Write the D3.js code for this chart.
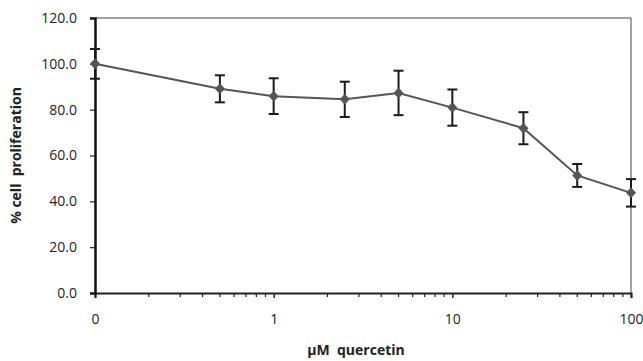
<!DOCTYPE html>
<html>
<head>
<meta charset="utf-8">
<script src="https://cdn.jsdelivr.net/npm/d3@7"></script>
<style>
  body { margin: 0; background: #fff; }
  svg { display: block; font-family: "Open Sans", sans-serif; }
</style>
</head>
<body>
<div id="chart"></div>
<script>
// concentrations in µM (0 = control, plotted at the 0.1 position)
const concentrations = [0, 0.5, 1, 2.5, 5, 10, 25, 50, 100];
const proliferation = [100.0, 89.1, 85.9, 84.5, 87.3, 80.9, 71.9, 51.3, 43.7];
const errors = [6.5, 5.9, 7.8, 7.7, 9.7, 7.9, 7.0, 5.0, 6.0];
const xTickValues = [0.1, 1, 10, 100];
const xTickLabels = ["0", "1", "10", "100"];
const yTickValues = [0, 20, 40, 60, 80, 100, 120];

const width = 643, height = 361;
const margin = { top: 18, right: 12, bottom: 68, left: 95 };

const svg = d3.select('#chart').append('svg')
	.attr('width', width)
	.attr('height', height);

const x = d3.scaleLog()
	.domain([0.1, 100])
	.range([margin.left, width - margin.right]);

const y = d3.scaleLinear()
	.domain([0, 120])
	.range([height - margin.bottom, margin.top]);

const xPos = c => x(c === 0 ? 0.1 : c);

// plot frame (top & right)
svg.append('path')
	.attr('d', `M${x(0.1)},${y(120)}H${x(100)}V${y(0)}`)
	.attr('fill', 'none')
	.attr('stroke', '#444')
	.attr('stroke-width', 1);

// minor ticks on x
const minor = [];
[0.1, 1, 10].forEach(d => { for (let k = 2; k <= 9; k++) minor.push(d * k); });
svg.append('g').selectAll('line')
	.data(minor)
	.enter().append('line')
	.attr('x1', d => x(d)).attr('x2', d => x(d))
	.attr('y1', y(0)).attr('y2', y(0) + 4)
	.attr('stroke', '#222').attr('stroke-width', 1.2);

// x axis
const xAxis = svg.append('g')
	.attr('transform', `translate(0,${y(0)})`)
	.call(d3.axisBottom(x).tickValues(xTickValues)
		.tickFormat((d, i) => xTickLabels[i])
		.tickSize(5).tickPadding(16));
xAxis.select('.domain').attr('stroke', '#222').attr('stroke-width', 2);
xAxis.selectAll('.tick line').attr('stroke', '#222').attr('stroke-width', 1.5);
xAxis.selectAll('text').attr('font-size', 14).attr('fill', '#222')
	.attr('font-family', '"Open Sans", sans-serif');

// y axis
const yAxis = svg.append('g')
	.attr('transform', `translate(${x(0.1)},0)`)
	.call(d3.axisLeft(y).tickValues(yTickValues)
		.tickFormat(d3.format('.1f'))
		.tickSize(5).tickPadding(13));
yAxis.select('.domain').attr('stroke', '#111').attr('stroke-width', 2.5);
yAxis.selectAll('.tick line').attr('stroke', '#222').attr('stroke-width', 1.2);
yAxis.selectAll('text').attr('font-size', 14).attr('fill', '#222')
	.attr('font-family', '"Open Sans", sans-serif');

// line
const line = d3.line()
	.x((d, i) => xPos(concentrations[i]))
	.y(d => y(d));
svg.append('path')
	.datum(proliferation)
	.attr('d', line)
	.attr('fill', 'none')
	.attr('stroke', '#555')
	.attr('stroke-width', 2);

// error bars
const eb = svg.append('g').attr('stroke', '#1a1a1a').attr('stroke-width', 2);
proliferation.forEach((v, i) => {
	const cx = xPos(concentrations[i]);
	const top = y(v + errors[i]), bot = y(v - errors[i]);
	eb.append('line').attr('x1', cx).attr('x2', cx).attr('y1', top).attr('y2', bot);
	eb.append('line').attr('x1', cx - 5).attr('x2', cx + 5).attr('y1', top).attr('y2', top);
	eb.append('line').attr('x1', cx - 5).attr('x2', cx + 5).attr('y1', bot).attr('y2', bot);
});

// diamond markers
svg.append('g').selectAll('path')
	.data(proliferation)
	.enter().append('path')
	.attr('d', 'M0,-5.5L5,0L0,5.5L-5,0Z')
	.attr('transform', (d, i) => `translate(${xPos(concentrations[i])},${y(d)})`)
	.attr('fill', '#555');

// axis titles
svg.append('text')
	.attr('x', 356).attr('y', 355)
	.attr('text-anchor', 'middle')
	.attr('font-size', 14).attr('font-weight', 'bold').attr('fill', '#222')
	.style('white-space', 'pre')
	.text('µM  quercetin');

svg.append('text')
	.attr('transform', `translate(21,${(y(0) + y(120)) / 2}) rotate(-90)`)
	.attr('text-anchor', 'middle')
	.attr('font-size', 14).attr('font-weight', 'bold').attr('fill', '#222')
	.style('white-space', 'pre')
	.text('% cell  proliferation');
</script>
</body>
</html>
